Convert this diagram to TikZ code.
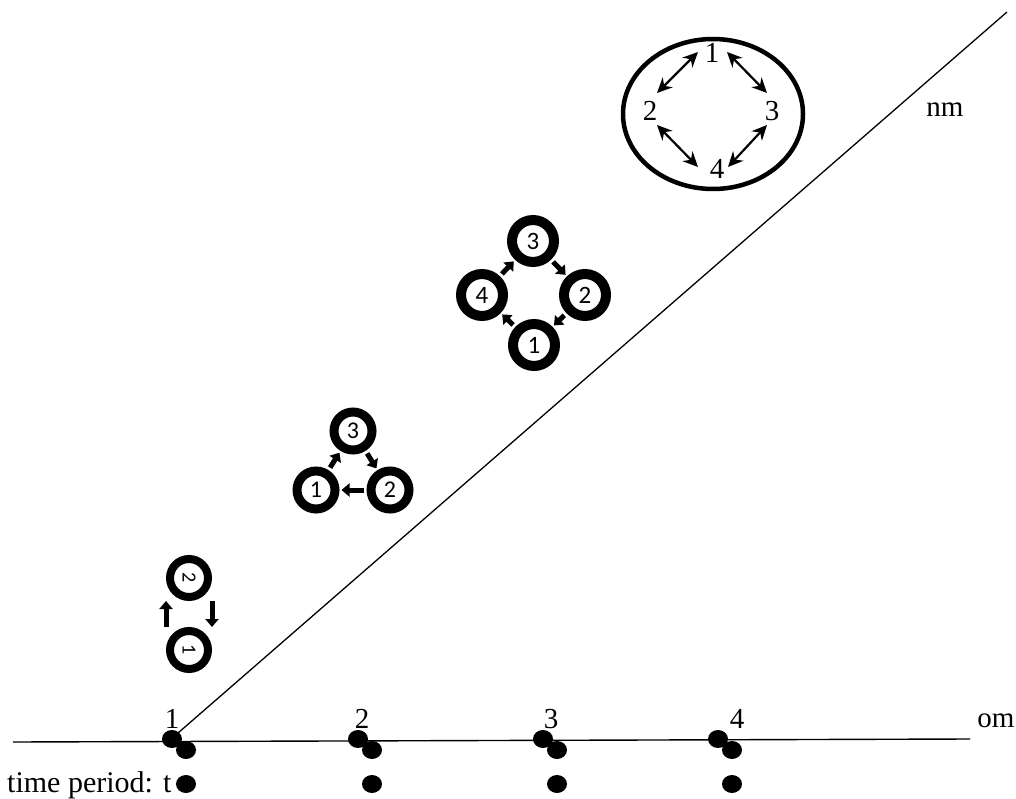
\documentclass[tikz,border=0pt]{standalone}
\usepackage{fontspec}
\usepackage{graphicx}
\setmainfont{Liberation Serif}
\newfontfamily\calib{Carlito}
\usetikzlibrary{arrows.meta,shapes.geometric,calc}
\begin{document}
\begin{tikzpicture}[x=1pt,y=-1pt,
 lbl/.style={font=\fontsize{29}{32}\selectfont, inner sep=0pt},
 dig/.style={font=\fontsize{29}{32}\selectfont, inner sep=2pt},
 dot/.style={ellipse, fill=black, minimum width=20pt, minimum height=18pt, inner sep=0pt},
 ringA/.style={circle, draw, line width=8pt, minimum size=38pt, inner sep=0pt, font=\calib\fontsize{20}{22}\selectfont},
 ringB/.style={circle, draw, line width=9pt, minimum size=38pt, inner sep=0pt, font=\calib\fontsize{24}{27}\selectfont},
 ringC/.style={circle, draw, line width=10pt, minimum size=42pt, inner sep=0pt, font=\calib\fontsize{25}{28}\selectfont},
 blk/.style={line width=5pt, -{Triangle[width=13pt,length=8pt]}},
 dbl/.style={line width=2.2pt, {Stealth[length=15pt,width=14pt]}-{Stealth[length=15pt,width=14pt]}},
]
\useasboundingbox (0,0) rectangle (1016,799);

% axes
\coordinate (hL) at (13,742);
\coordinate (hR) at (970,739);
\draw[line width=1.4pt] (hL) -- (hR);
\coordinate (dA) at (178,733);
\coordinate (dB) at (1007,12);
\draw[line width=1.3pt] (dA) -- (dB);

% axis labels
\node[lbl] (t1) at (172,719) {1};
\node[lbl] (t2) at (362,719) {2};
\node[lbl] (t3) at (551,719) {3};
\node[lbl] (t4) at (737,719) {4};
\node[lbl] (om) at (996,721) {om};
\node[lbl] (nm) at (945,110) {nm};
\node[lbl, anchor=base west, font=\fontsize{30}{32}\selectfont] (tp) at (7,792) {time period: t};

% dots
\foreach \i/\x in {1/172,2/358,3/543,4/718}{
  \node[dot] (u\i) at (\x,739) {};
  \node[dot] (l\i) at (\x+14,750) {};
  \node[dot] (b\i) at (\x+14,784) {};
}

% stage 1
\node[ringA] (a2) at (189,578) {\rotatebox{-90}{2}};
\node[ringA] (a1) at (189,650) {\rotatebox{-90}{1}};
\draw[blk] ([xshift=-23pt]a1.north) -- ([xshift=-23pt]a2.south);
\draw[blk] ([xshift=23pt]a2.south) -- ([xshift=23pt]a1.north);

% stage 2
\node[ringB] (s3) at (353,431) {3};
\node[ringB] (s1) at (316,490) {1};
\node[ringB] (s2) at (390,490) {2};
\draw[blk, shorten <=3pt, shorten >=2pt] (s1) -- (s3);
\draw[blk, shorten <=3pt, shorten >=2pt] (s3) -- (s2);
\draw[blk, shorten <=3pt, shorten >=2pt] (s2) -- (s1);

% stage 3
\node[ringC] (c3) at (533,241) {3};
\node[ringC] (c4) at (482,295) {4};
\node[ringC] (c2) at (585,295) {2};
\node[ringC] (c1) at (534,345) {1};
\draw[blk, shorten <=3pt, shorten >=2pt] (c4) -- (c3);
\draw[blk, shorten <=3pt, shorten >=2pt] (c3) -- (c2);
\draw[blk, shorten <=3pt, shorten >=2pt] (c2) -- (c1);
\draw[blk, shorten <=3pt, shorten >=2pt] (c1) -- (c4);

% stage 4
\node[ellipse, draw, line width=4.5pt, minimum width=180pt, minimum height=150pt] (E) at (713,114) {};
\node[dig] (d1) at (712,53) {1};
\node[dig] (d2) at (650,111) {2};
\node[dig] (d3) at (772,111) {3};
\node[dig] (d4) at (717,169) {4};
\draw[dbl] ($(d1)+(-14,-1)$) -- ($(d2)+(7,-18)$);
\draw[dbl] ($(d1)+(15,-1)$) -- ($(d3)+(-5,-18)$);
\draw[dbl] ($(d2)+(7,14)$) -- ($(d4)+(-19,-2)$);
\draw[dbl] ($(d3)+(-5,14)$) -- ($(d4)+(11,-2)$);
\end{tikzpicture}
\end{document}
